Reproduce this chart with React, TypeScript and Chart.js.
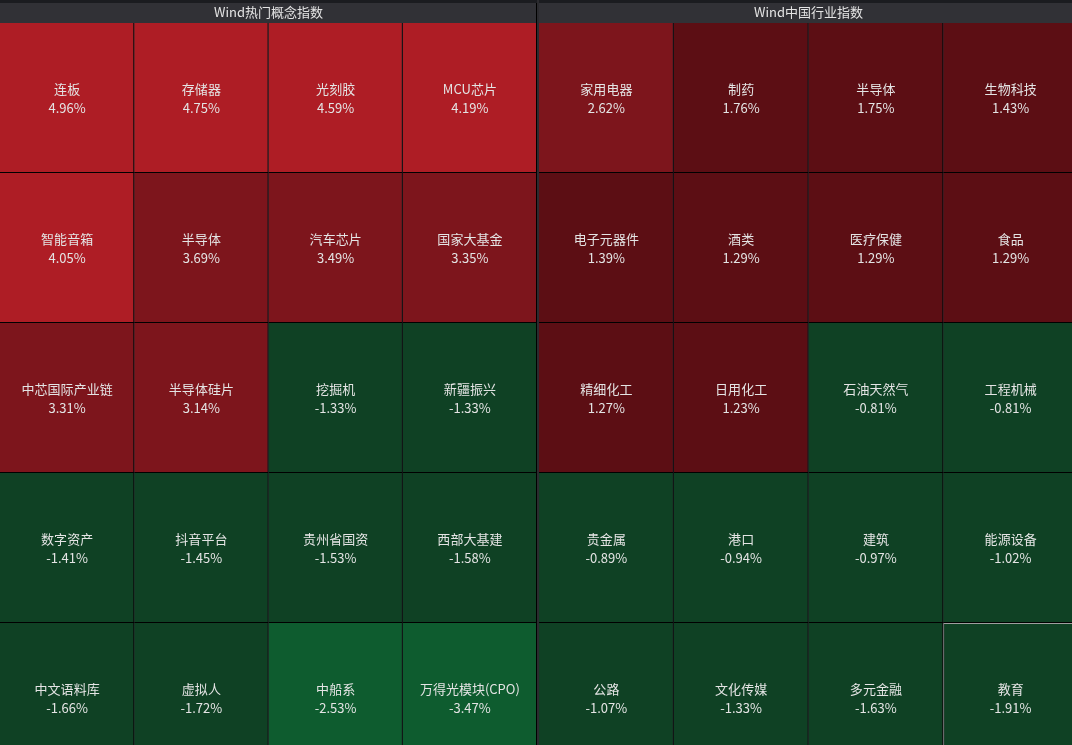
import { useEffect, useRef } from 'react';
import { Chart, registerables } from 'chart.js';

Chart.register(...registerables);

const conceptTitle = 'Wind热门概念指数';
const industryTitle = 'Wind中国行业指数';

const columnLabels = ['列1', '列2', '列3', '列4'];
const rowLabels = ['行1', '行2', '行3', '行4', '行5'];

const conceptNames = [
  '连板', '存储器', '光刻胶', 'MCU芯片',
  '智能音箱', '半导体', '汽车芯片', '国家大基金',
  '中芯国际产业链', '半导体硅片', '挖掘机', '新疆振兴',
  '数字资产', '抖音平台', '贵州省国资', '西部大基建',
  '中文语料库', '虚拟人', '中船系', '万得光模块(CPO)',
];
const conceptValues = [
  4.96, 4.75, 4.59, 4.19,
  4.05, 3.69, 3.49, 3.35,
  3.31, 3.14, -1.33, -1.33,
  -1.41, -1.45, -1.53, -1.58,
  -1.66, -1.72, -2.53, -3.47,
];

const industryNames = [
  '家用电器', '制药', '半导体', '生物科技',
  '电子元器件', '酒类', '医疗保健', '食品',
  '精细化工', '日用化工', '石油天然气', '工程机械',
  '贵金属', '港口', '建筑', '能源设备',
  '公路', '文化传媒', '多元金融', '教育',
];
const industryValues = [
  2.62, 1.76, 1.75, 1.43,
  1.39, 1.29, 1.29, 1.29,
  1.27, 1.23, -0.81, -0.81,
  -0.89, -0.94, -0.97, -1.02,
  -1.07, -1.33, -1.63, -1.91,
];

const FONT = '"Noto Sans CJK SC", "Noto Sans", sans-serif';
const TEXT = '#e4e4e4';

function cellColor(v: number): string {
  if (v >= 4) return '#ae1d25';
  if (v >= 2) return '#7d151c';
  if (v > 0) return '#5c0e14';
  if (v > -2) return '#0f4124';
  return '#0e5c2f';
}

function Panel(props: {
  title: string;
  names: string[];
  values: number[];
  width: number;
  highlight: number;
  divider: boolean;
}) {
  const ref = useRef<HTMLCanvasElement | null>(null);
  useEffect(() => {
    const canvas = ref.current;
    if (!canvas) return;
    const { names, values, highlight, divider } = props;
    const nCols = columnLabels.length;
    const datasets = rowLabels.map((rl, r) => {
      const idx = columnLabels.map((_, c) => r * nCols + c);
      return {
        label: rl,
        data: idx.map(() => [r, r + 1] as [number, number]),
        backgroundColor: idx.map((i) => cellColor(values[i])),
        borderColor: idx.map((i) => (i === highlight ? '#9e9e9e' : '#000000')),
        borderWidth: idx.map((i) =>
          i === highlight ? 1 : { top: 0, left: 0, right: 1, bottom: 1 }
        ) as any,
        borderSkipped: false as const,
        grouped: false,
        barPercentage: 1,
        categoryPercentage: 1,
        inflateAmount: 0,
      };
    });

    const headerPlugin = {
      id: 'header',
      beforeDraw(chart: any) {
        const { ctx, chartArea, width } = chart;
        ctx.save();
        ctx.fillStyle = '#1b1c20';
        ctx.fillRect(0, 0, width, 3);
        ctx.fillStyle = '#313136';
        ctx.fillRect(0, 3, width, chartArea.top - 3);
        if (divider) {
          ctx.fillStyle = '#000000';
          ctx.fillRect(width - 1, 3, 1, chartArea.top - 3);
        }
        ctx.restore();
      },
    };

    const labelPlugin = {
      id: 'cellLabels',
      afterDatasetsDraw(chart: any) {
        const { ctx } = chart;
        ctx.save();
        ctx.fillStyle = TEXT;
        ctx.font = `13px ${FONT}`;
        ctx.textAlign = 'center';
        ctx.textBaseline = 'middle';
        chart.data.datasets.forEach((_: any, r: number) => {
          const meta = chart.getDatasetMeta(r);
          meta.data.forEach((el: any, c: number) => {
            const i = r * nCols + c;
            const p = el.getProps(['x', 'y', 'base'], true);
            const cy = (p.y + p.base) / 2;
            ctx.fillText(names[i], p.x, cy - 9);
            ctx.fillText(values[i].toFixed(2) + '%', p.x, cy + 10);
          });
        });
        ctx.restore();
      },
    };

    const chart = new Chart(canvas, {
      type: 'bar',
      data: { labels: columnLabels, datasets: datasets as any },
      options: {
        animation: false,
        responsive: false,
        events: [],
        layout: { padding: 0 },
        plugins: {
          legend: { display: false },
          tooltip: { enabled: false },
          title: {
            display: true,
            text: props.title,
            color: TEXT,
            font: { family: FONT, size: 13, weight: 'normal', lineHeight: 1.2 },
            padding: { top: 4.5, bottom: 2.9 },
          },
        },
        scales: {
          x: { type: 'category', display: false, offset: true },
          y: { type: 'linear', display: false, min: 0, max: rowLabels.length, reverse: true },
        },
      },
      plugins: [headerPlugin, labelPlugin],
    });
    return () => chart.destroy();
  }, []);
  return (
    <canvas
      ref={ref}
      width={props.width}
      height={773}
      style={{ display: 'block', width: props.width, height: 773, flex: 'none' }}
    />
  );
}

export default function App() {
  return (
    <div
      style={{
        position: 'fixed',
        top: 0,
        left: 0,
        width: 1072,
        height: 745,
        overflow: 'hidden',
        background: '#2b2b2f',
        display: 'flex',
      }}
    >
      <Panel title={conceptTitle} names={conceptNames} values={conceptValues} width={537} highlight={-1} divider={true} />
      <div style={{ width: 2, flex: 'none' }} />
      <Panel title={industryTitle} names={industryNames} values={industryValues} width={539} highlight={19} divider={false} />
    </div>
  );
}
